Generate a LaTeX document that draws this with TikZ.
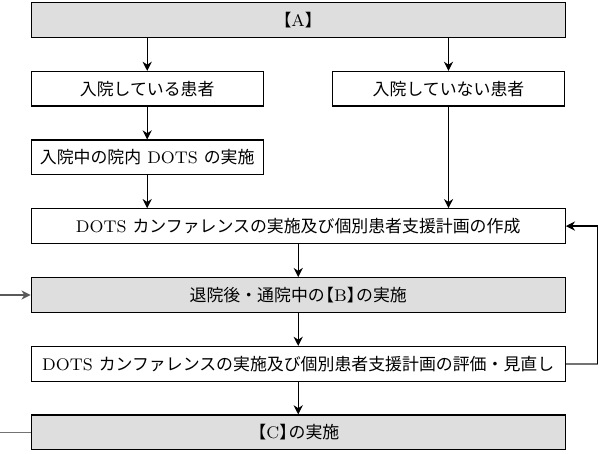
\documentclass[tikz,border=0pt]{standalone}
\usepackage{fontspec}
\newfontfamily\jpfont{Noto Sans CJK JP}
\newcommand{\jp}[1]{{\jpfont #1}}
\newcommand{\lbk}{\kern-0.45em\jp{【}}
\newcommand{\rbk}{\jp{】}\kern-0.45em}
\usetikzlibrary{arrows.meta}
\definecolor{boxgray}{RGB}{221,222,221}
\tikzset{
  flowbox/.style={draw, line width=0.6pt, minimum height=17.3pt, inner sep=0pt,
    font=\fontsize{8.45}{10}\selectfont},
  widebox/.style={flowbox, minimum width=267pt},
  halfbox/.style={flowbox, minimum width=116pt},
  shaded/.style={fill=boxgray},
  flow/.style={->, line width=0.6pt},
}
\begin{document}
\begin{tikzpicture}[x=0.5pt, y=-0.5pt, >={Stealth[length=4.6pt,width=4.6pt,inset=1.5pt]}]
  \useasboundingbox (0,0) rectangle (599,454);

  % --- 1. 各ボックス ---
  \node[widebox, shaded] (nodeA)    at (298.2, 20.0)  {\lbk A\rbk};
  \node[halfbox]         (inpat)    at (147.2, 88.8)  {\jp{入院している患者}};
  \node[halfbox]         (outpat)   at (448.5, 88.8)  {\jp{入院していない患者}};
  \node[halfbox]         (hospdots) at (147.2, 157.4) {\jp{入院中の院内} DOTS \jp{の実施}};
  \node[widebox]         (plan)     at (298.2, 226.1) {DOTS \jp{カンファレンスの実施及び個別患者支援計画の作成}};
  \node[widebox, shaded] (nodeB)    at (298.2, 295.0) {\jp{退院後・通院中の}\lbk B\rbk\jp{の実施}};
  \node[widebox]         (review)   at (298.2, 363.8) {DOTS \jp{カンファレンスの実施及び個別患者支援計画の評価・見直し}};
  \node[widebox, shaded] (nodeC)    at (298.2, 432.3) {\lbk C\rbk\jp{の実施}};

  % --- 2. 矢印 ---
  \draw[flow] (nodeA.south -| inpat) -- (inpat);
  \draw[flow] (nodeA.south -| outpat) -- (outpat);
  \draw[flow] (inpat) -- (hospdots);
  \draw[flow] (hospdots) -- (plan.north -| hospdots);
  \draw[flow] (outpat) -- (plan.north -| outpat);
  \draw[flow] (plan) -- (nodeB);
  \draw[flow] (nodeB) -- (review);
  \draw[flow] (review) -- (nodeC);

  % --- 3. 評価・見直しから作成へ戻る線 ---
  \coordinate (back) at (597.7, 363.8);
  \draw[line width=0.8pt, black!55] (review.east) -- (back);
  \draw[flow] (back) |- (plan.east);

  % --- 4. 左端の線 ---
  \coordinate (inB) at (0, 295.0);
  \coordinate (outC) at (0, 432.3);
  \draw[flow, black!65] (inB) -- (nodeB.west);
  \draw[line width=0.6pt, black!55] (nodeC.west) -- (outC);

\end{tikzpicture}
\end{document}
